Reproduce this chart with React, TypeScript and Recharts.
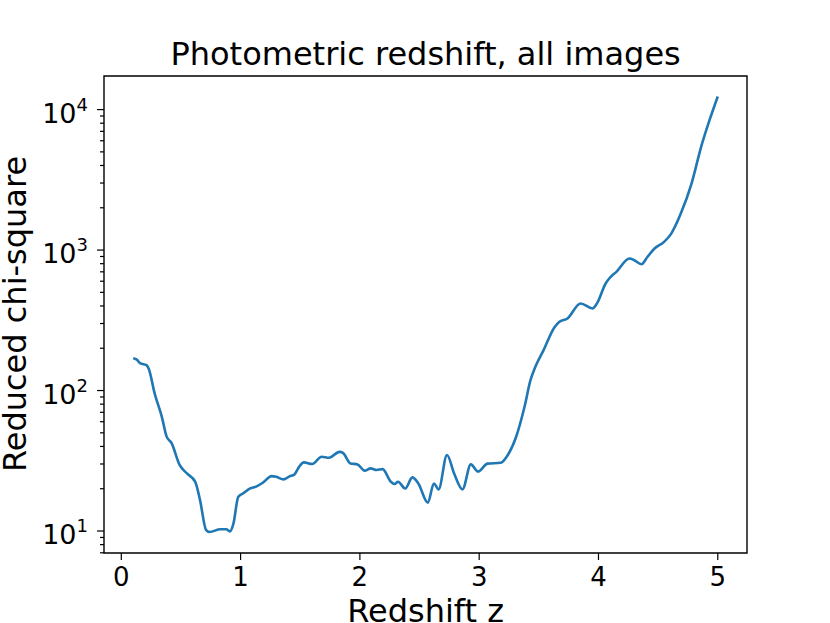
import { LineChart, Line, XAxis, YAxis, ReferenceArea } from 'recharts';

const redshift = [
  0.1, 0.13, 0.16, 0.21, 0.23, 0.28, 0.34, 0.38, 0.42, 0.49, 0.55, 0.62, 0.66, 0.71, 0.74,
  0.83, 0.88, 0.91, 0.94, 0.98, 1.02, 1.08, 1.13, 1.19, 1.26, 1.3, 1.36, 1.41, 1.45, 1.49,
  1.53, 1.6, 1.68, 1.74, 1.83, 1.86, 1.92, 1.98, 2.04, 2.09, 2.14, 2.19, 2.26, 2.29, 2.32,
  2.38, 2.44, 2.49, 2.57, 2.62, 2.66, 2.73, 2.79, 2.86, 2.93, 2.99, 3.07, 3.18, 3.24, 3.31,
  3.38, 3.43, 3.47, 3.54, 3.63, 3.67, 3.74, 3.85, 3.95, 3.99, 4.06, 4.09, 4.15, 4.26, 4.3,
  4.36, 4.41, 4.47, 4.55, 4.61, 4.69, 4.78, 4.86, 4.93, 5.0,
];

const chiSquare = [
  170, 166, 156, 152, 143, 95, 65, 47, 42.5, 29.4, 25.7, 22.4, 16.6, 10.2, 9.84,
  10.3, 10.3, 9.95, 11.3, 17.5, 18.5, 20.1, 20.7, 22.2, 24.6, 24.3, 23.3, 24.5, 25.2, 28.6,
  30.8, 30, 33.8, 33.2, 36.6, 35.9, 30.3, 29.8, 26.9, 27.9, 27.2, 27.6, 22.4, 21.6, 22.4,
  20.1, 24.1, 21.8, 15.9, 21.8, 19.8, 34.8, 25.7, 19.8, 29.8, 26.5, 30.2, 30.6, 34.8, 46.9,
  76.6, 118.6, 147, 194, 281, 308, 326, 417, 384, 421, 578, 627, 700, 871, 846,
  792, 893, 1025, 1143, 1310, 1818, 2972, 5410, 8370, 12400,
];

const xTicks = [0, 1, 2, 3, 4, 5];
const yMajor = [10, 100, 1000, 10000];
const yMinor = [
  7, 8, 9, 20, 30, 40, 50, 60, 70, 80, 90, 200, 300, 400, 500, 600, 700, 800, 900,
  2000, 3000, 4000, 5000, 6000, 7000, 8000, 9000,
];

const X_DOMAIN: [number, number] = [-0.145, 5.245];
const Y_DOMAIN: [number, number] = [6.975, 17340];

const data = redshift.map((z, i) => ({ z, chi: chiSquare[i] }));
const yTicks = [...yMajor, ...yMinor].sort((a, b) => a - b);

const FONT = '"DejaVu Sans", sans-serif';

const LogTick = (props: any) => {
  const { x, y, payload } = props;
  const v = payload.value;
  const major = yMajor.includes(v);
  const len = major ? 7 : 4;
  return (
    <g>
      <line x1={x - len} x2={x} y1={y} y2={y} stroke="#000" strokeWidth={1.2} />
      {major && (
        <text x={x - 16} y={y + 13} textAnchor="end" fontFamily={FONT} fontSize={27} fill="#000">
          <tspan>10</tspan>
          <tspan dy={-12} fontSize={18}>
            {Math.round(Math.log10(v))}
          </tspan>
        </text>
      )}
    </g>
  );
};

export default function App() {
  return (
    <div style={{ position: 'absolute', left: 0, top: 0, background: '#fff' }}>
      <LineChart
        width={830}
        height={623}
        data={data}
        margin={{ top: 76, right: 83, left: 4, bottom: 0 }}
      >
        <XAxis
          dataKey="z"
          type="number"
          domain={X_DOMAIN}
          ticks={xTicks}
          allowDataOverflow
          height={70}
          axisLine={false}
          tickSize={7}
          tickMargin={8}
          tickLine={{ stroke: '#000', strokeWidth: 1.2 }}
          tick={{ fill: '#000', fontSize: 26, fontFamily: FONT }}
          interval={0}
        />
        <YAxis
          dataKey="chi"
          type="number"
          scale="log"
          domain={Y_DOMAIN}
          ticks={yTicks}
          allowDataOverflow
          width={100}
          axisLine={false}
          tickLine={false}
          tickSize={0}
          tickMargin={0}
          interval={0}
          tick={<LogTick />}
        />
        <ReferenceArea
          x1={X_DOMAIN[0]}
          x2={X_DOMAIN[1]}
          y1={Y_DOMAIN[0]}
          y2={Y_DOMAIN[1]}
          fill="none"
          stroke="#000"
          strokeWidth={1.4}
        />
        <Line
          dataKey="chi"
          type="monotone"
          stroke="#1f77b4"
          strokeWidth={2.6}
          dot={false}
          isAnimationActive={false}
        />
        <text x={425.6} y={65} textAnchor="middle" fontFamily={FONT} fontSize={32} fill="#000">
          Photometric redshift, all images
        </text>
        <text x={425.6} y={622} textAnchor="middle" fontFamily={FONT} fontSize={32} fill="#000">
          Redshift z
        </text>
        <text
          x={26}
          y={314}
          transform="rotate(-90 26 314)"
          textAnchor="middle"
          fontFamily={FONT}
          fontSize={32}
          fill="#000"
        >
          Reduced chi-square
        </text>
      </LineChart>
    </div>
  );
}
